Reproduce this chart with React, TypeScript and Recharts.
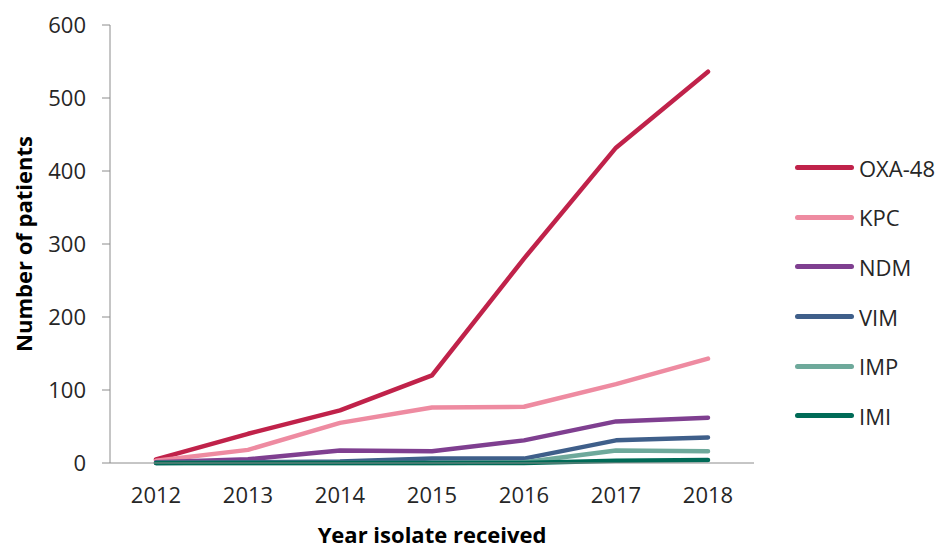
import React from "react";
import { LineChart, Line, XAxis, YAxis } from "recharts";

const years = [2012, 2013, 2014, 2015, 2016, 2017, 2018];
const oxa48 = [5, 40, 72, 120, 280, 432, 536];
const kpc = [3, 18, 55, 76, 77, 108, 143];
const ndm = [1, 5, 17, 16, 31, 57, 62];
const vim = [0, 1, 2, 6, 6, 31, 35];
const imp = [0, 0, 0, 0, 1, 17, 16];
const imi = [0, 0, 0, 0, 0, 3, 4];
const yTicks = [0, 100, 200, 300, 400, 500, 600];

const SERIES = [
  { key: "OXA-48", values: oxa48, color: "#c0224a" },
  { key: "KPC", values: kpc, color: "#ee8ba1" },
  { key: "NDM", values: ndm, color: "#7f3f90" },
  { key: "VIM", values: vim, color: "#3f5f8a" },
  { key: "IMP", values: imp, color: "#6ea99b" },
  { key: "IMI", values: imi, color: "#006b57" },
];

const data = years.map((year, i) => {
  const row: Record<string, number> = { year };
  SERIES.forEach((s) => (row[s.key] = s.values[i]));
  return row;
});

// tick marks sit between categories, Excel style
const bounds = years.map((y) => y - 0.5).concat(years[years.length - 1] + 0.5);

const FONT = "'Open Sans', sans-serif";
const AXIS = "#8c8c8c";
const TEXT = "#262626";

function LegendBox() {
  return (
    <div style={{ position: "absolute", left: 795, top: 143, fontFamily: FONT }}>
      {SERIES.map((s) => (
        <div key={s.key} style={{ display: "flex", alignItems: "center", height: 49.6 }}>
          <div style={{ width: 59, height: 5, borderRadius: 3, background: s.color, marginRight: 5 }} />
          <span style={{ fontSize: 22, color: TEXT, lineHeight: "22px" }}>{s.key}</span>
        </div>
      ))}
    </div>
  );
}

export default function App() {
  return (
    <div style={{ position: "absolute", left: 0, top: 0, width: 941, height: 549, background: "#fff" }}>
      <LineChart width={941} height={549} data={data} margin={{ top: 25, right: 187, bottom: 0, left: 0 }}>
        <XAxis
          xAxisId="bounds"
          type="number"
          dataKey="year"
          domain={[bounds[0], bounds[bounds.length - 1]]}
          ticks={bounds}
          allowDataOverflow
          tick={false}
          tickSize={8}
          height={8}
          stroke={AXIS}
        />
        <XAxis
          xAxisId="main"
          type="number"
          dataKey="year"
          domain={[bounds[0], bounds[bounds.length - 1]]}
          ticks={years}
          allowDataOverflow
          axisLine={false}
          tickLine={false}
          tickSize={6}
          tickMargin={10}
          height={78}
          tick={{ fontSize: 22, fill: TEXT, fontFamily: FONT }}
          label={{
            value: "Year isolate received",
            position: "insideBottom",
            offset: 6,
            style: { fontSize: 22, fontWeight: 700, fill: "#000", fontFamily: FONT },
          }}
        />
        <YAxis
          domain={[0, 600]}
          ticks={yTicks}
          width={110}
          tickSize={8}
          tickMargin={16}
          stroke={AXIS}
          tick={{ fontSize: 22, fill: TEXT, fontFamily: FONT }}
          label={{
            value: "Number of patients",
            angle: -90,
            position: "insideLeft",
            offset: 24,
            style: { textAnchor: "middle", fontSize: 22, fontWeight: 700, fill: "#000", fontFamily: FONT },
          }}
        />
        {SERIES.map((s) => (
          <Line
            key={s.key}
            xAxisId="main"
            dataKey={s.key}
            stroke={s.color}
            strokeWidth={4.5}
            strokeLinecap="round"
            strokeLinejoin="round"
            dot={false}
            isAnimationActive={false}
          />
        ))}
      </LineChart>
      <LegendBox />
    </div>
  );
}
